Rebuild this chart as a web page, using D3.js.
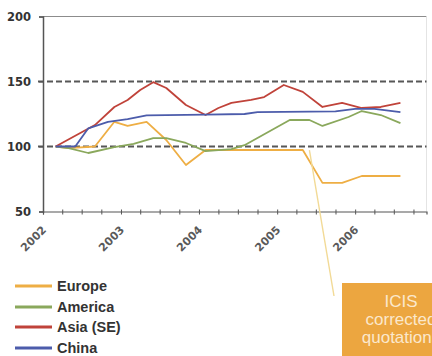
<!DOCTYPE html>
<html>
<head>
<meta charset="utf-8">
<script src="https://cdn.jsdelivr.net/npm/d3@7"></script>
<style>
  html, body { margin: 0; padding: 0; background: #ffffff; }
  svg { display: block; }
</style>
</head>
<body>
<script>
// Price index, base 2002 = 100, by region
const seriesNames  = ["Europe", "America", "Asia (SE)", "China"];
const seriesColors = ["#eeae44", "#8aa85c", "#c0433a", "#4c5cab"];

const europe = [
  ["2002-03", 100], ["2002-05", 98.8], ["2002-09", 100], ["2002-12", 119],
  ["2003-02", 115.8], ["2003-05", 119], ["2003-08", 105], ["2003-11", 85.8],
  ["2004-02", 97.3], ["2005-05", 97.3], ["2005-08", 72], ["2005-11", 72],
  ["2006-02", 77.3], ["2006-08", 77.3]
];
const america = [
  ["2002-03", 100], ["2002-05", 98.8], ["2002-08", 95], ["2002-12", 99.6],
  ["2003-03", 102], ["2003-06", 106.5], ["2003-08", 106.5], ["2003-11", 102.7],
  ["2004-02", 96.5], ["2004-06", 98], ["2004-08", 101], ["2005-03", 120.4],
  ["2005-06", 120.4], ["2005-08", 115.8], ["2005-12", 122.7], ["2006-02", 127.3],
  ["2006-05", 124.2], ["2006-08", 118]
];
const asia = [
  ["2002-03", 100], ["2002-09", 116.5], ["2002-12", 130.4], ["2003-02", 135.8],
  ["2003-04", 143.5], ["2003-06", 149.5], ["2003-08", 145], ["2003-11", 131.9],
  ["2004-02", 124.2], ["2004-04", 129.6], ["2004-06", 133.5], ["2004-09", 135.8],
  ["2004-11", 138], ["2005-02", 147.3], ["2005-05", 142], ["2005-08", 130.4],
  ["2005-11", 133.5], ["2006-02", 129.6], ["2006-05", 130.4], ["2006-08", 133.5]
];
const china = [
  ["2002-03", 100], ["2002-06", 100], ["2002-08", 114], ["2002-11", 119],
  ["2003-02", 121], ["2003-05", 124], ["2004-02", 124.5], ["2004-08", 125],
  ["2004-10", 126.5], ["2005-10", 127], ["2006-01", 129], ["2006-04", 129],
  ["2006-08", 126.5]
];
const seriesValues = [europe, america, asia, china];

const yTickValues = [50, 100, 150, 200];
const refLines    = [100, 150];
const yearLabels  = ["2002", "2003", "2004", "2005", "2006"];
const noteLines   = ["ICIS", "corrected", "quotations"];
const noteAnchor  = ["2005-06", 97.3];

const W = 432, H = 356;
const plot = { left: 43, right: 426.5, top: 16.5, bottom: 211.5 };
const parse = d3.timeParse("%Y-%m");

const svg = d3.select("body").append("svg")
  .attr("width", W).attr("height", H);

const x = d3.scaleTime()
  .domain([parse("2002-01"), parse("2006-12")])
  .range([plot.left, plot.right]);
const y = d3.scaleLinear()
  .domain([50, 200])
  .range([plot.bottom, plot.top]);

// frame: top and right edges
svg.append("line")
  .attr("x1", plot.left).attr("x2", plot.right)
  .attr("y1", y(200)).attr("y2", y(200))
  .attr("stroke", "#8c8c8c").attr("stroke-width", 1.2);
svg.append("line")
  .attr("x1", plot.right).attr("x2", plot.right)
  .attr("y1", y(200)).attr("y2", y(50))
  .attr("stroke", "#e4e4e4").attr("stroke-width", 1);

// dashed reference levels
svg.selectAll("line.ref").data(refLines).enter().append("line")
  .attr("class", "ref")
  .attr("x1", plot.left - 5).attr("x2", plot.right)
  .attr("y1", d => y(d)).attr("y2", d => y(d))
  .attr("stroke", "#575757").attr("stroke-width", 2)
  .attr("stroke-dasharray", "6,3");

// y axis
const yAxis = svg.append("g")
  .attr("transform", `translate(${plot.left},0)`)
  .call(d3.axisLeft(y).tickValues(yTickValues).tickSize(4).tickPadding(8)
    .tickFormat(d3.format("d")));
yAxis.select(".domain").attr("stroke", "#555").attr("stroke-width", 1.5);
yAxis.selectAll(".tick line").attr("stroke", "#555");
yAxis.selectAll("text")
  .attr("font-family", "DejaVu Sans").attr("font-weight", "bold")
  .attr("font-size", "11.5px").attr("fill", "#333");

// x axis: quarterly ticks, year labels
const xAxis = svg.append("g")
  .attr("transform", `translate(0,${plot.bottom})`)
  .call(d3.axisBottom(x).ticks(d3.timeMonth.every(3)).tickSize(3).tickFormat(""));
xAxis.select(".domain").attr("stroke", "#555").attr("stroke-width", 1.2);
xAxis.selectAll(".tick line").attr("stroke", "#555").attr("y1", -2);

svg.selectAll("text.year").data(yearLabels).enter().append("text")
  .attr("class", "year")
  .attr("transform", d => `translate(${x(parse(d + "-01")) + 4},${plot.bottom + 19}) rotate(-45)`)
  .attr("text-anchor", "end")
  .attr("font-family", "DejaVu Sans").attr("font-weight", "bold")
  .attr("font-size", "11px").attr("fill", "#5a5a5a")
  .text(d => d);

// series lines
const line = d3.line()
  .x(d => x(parse(d[0])))
  .y(d => y(d[1]));

seriesValues.forEach((vals, i) => {
  svg.append("path")
    .datum(vals)
    .attr("fill", "none")
    .attr("stroke", seriesColors[i])
    .attr("stroke-width", 1.8)
    .attr("stroke-linejoin", "round")
    .attr("d", line);
});

// annotation box with pointer to the European series
const box = { x: 342, y: 283, w: 100, h: 80 };
svg.append("line")
  .attr("x1", x(parse(noteAnchor[0]))).attr("y1", y(noteAnchor[1]))
  .attr("x2", 334).attr("y2", 296)
  .attr("stroke", "#f2da96").attr("stroke-width", 1.4);
svg.append("rect")
  .attr("x", box.x).attr("y", box.y).attr("width", box.w).attr("height", box.h)
  .attr("fill", "#eca640");
svg.selectAll("text.note").data(noteLines).enter().append("text")
  .attr("class", "note")
  .attr("x", 401)
  .attr("y", (d, i) => [307, 325, 343][i])
  .attr("text-anchor", "middle")
  .attr("font-family", "Liberation Sans, Arial, sans-serif")
  .attr("font-size", "17px").attr("fill", "#fbe8cc")
  .text(d => d);

// legend
const legend = svg.append("g");
const rows = [286, 307, 327, 348];
seriesNames.forEach((name, i) => {
  legend.append("line")
    .attr("x1", 15).attr("x2", 52)
    .attr("y1", rows[i]).attr("y2", rows[i])
    .attr("stroke", seriesColors[i]).attr("stroke-width", 3);
  legend.append("text")
    .attr("x", 57).attr("y", rows[i] + 5)
    .attr("font-family", "Liberation Sans, Arial, sans-serif")
    .attr("font-weight", "bold").attr("font-size", "14.5px")
    .attr("fill", "#333")
    .text(name);
});
</script>
</body>
</html>
